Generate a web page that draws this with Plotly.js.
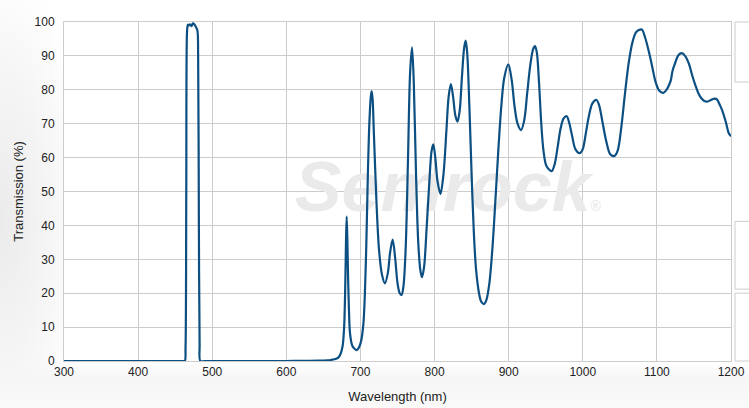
<!DOCTYPE html>
<html>
<head>
<meta charset="utf-8">
<script src="https://cdn.plot.ly/plotly-3.0.1.min.js"></script>
<style>
html,body{margin:0;padding:0;}
body{width:749px;height:408px;overflow:hidden;
 background:
  linear-gradient(to bottom, rgba(255,255,255,0) 0px, rgba(255,255,255,0) 362px, #f6f6f6 380px, #fafafa 408px),
  radial-gradient(ellipse 90px 260px at 0px 220px, #ebebeb 0%, #f4f4f4 50%, #ffffff 100%);
}
#chart{width:749px;height:408px;}
</style>
</head>
<body>
<div id="chart"></div>
<script>
// Wavelength (nm)
const wavelength = [
 300, 350, 400, 450, 460, 463, 464, 465, 466, 467, 468, 470, 472, 474, 476, 478, 480, 481, 482, 483, 484, 490,
 550, 600, 630, 645, 655, 660, 665, 670, 673, 676, 678, 679.5, 680.5, 681.4, 682.3, 683.3, 684.5, 686, 689, 692, 695,
 698, 701, 704, 706, 708, 710, 712, 714, 715.2, 716.5, 718, 720, 722, 725, 729, 733, 737, 740, 743.5, 747,
 750, 753, 755.5, 758, 761, 764, 767, 769.6, 772, 775, 778, 781, 783, 786, 789, 793, 796, 798.3, 801,
 804, 808, 812, 816, 819, 822, 825, 828, 831, 834, 837, 840, 842, 844, 847, 850, 853, 856, 860, 863,
 866.7, 870, 874, 878, 882, 886, 890, 894, 899.5, 904, 908, 912, 916.7, 921, 925, 929, 933, 935.6, 938,
 941, 944, 947, 951, 958, 962, 966, 970, 974, 978.3, 982, 986, 990, 996, 1000, 1004, 1008, 1013, 1018.5,
 1022, 1027, 1032, 1037, 1042.5, 1047, 1052, 1057, 1062, 1067, 1072, 1079.5, 1084, 1090, 1094, 1098, 1103,
 1108.5, 1113, 1117, 1119, 1121, 1124, 1129, 1133.5, 1138, 1143, 1148, 1152, 1156, 1160, 1164, 1168, 1173, 1178,
 1181, 1185, 1188, 1193, 1197, 1200
];
// Transmission (%)
const transmission = [
 0, 0, 0, 0, 0, 0, 4, 50, 97, 99.2, 98.9, 99.3, 98.8, 99.6, 99.3, 98.5, 97.5, 90, 40, 5, 0, 0,
 0, 0, 0.05, 0.1, 0.2, 0.3, 0.5, 1, 2, 4.5, 10, 22, 35, 42.6, 36, 25, 15, 8, 4.5, 3.6, 3.2,
 4, 6, 11, 20, 35, 55, 70, 78, 79.6, 77, 68, 56, 45, 33, 25.5, 22.9, 26, 32, 35.8, 30,
 23, 20, 19.5, 22, 33, 58, 85, 92.5, 82, 55, 35, 26.5, 24.7, 28, 38, 53, 62, 63.9, 60,
 53, 49.3, 55, 68, 78, 81.7, 78, 72.5, 70.6, 74, 84, 92.5, 94.5, 91, 75, 55, 38, 27, 20, 17.5,
 16.8, 18, 23, 33, 47, 62, 75, 83.5, 87.5, 83, 75, 70, 68.1, 71, 79, 87, 92, 92.9, 91,
 82, 70, 62, 57.5, 56, 58, 63, 68.5, 71.5, 72.2, 70, 66, 62.5, 61.3, 62.5, 67, 72, 76, 77,
 75.5, 70, 64.5, 61, 60.5, 62, 69, 79, 88, 94, 97, 97.8, 95.5, 90.5, 86.5, 82.5, 79.8,
 79.1, 80, 81.7, 83, 85.5, 87.5, 90.2, 90.8, 90, 87.8, 84, 81.3, 79, 77.5, 76.7, 76.5, 77, 77.4,
 77.2, 75.5, 74, 70.5, 67.2, 66.3
];
const xTicks = [300, 400, 500, 600, 700, 800, 900, 1000, 1100, 1200];
const yTicks = [0, 10, 20, 30, 40, 50, 60, 70, 80, 90, 100];
const watermarkText = ['Semrock<span style="font-size:14px;font-style:normal">®</span>'];
const watermarkX = [818];
const watermarkY = [49.5];

const watermark = {
  x: watermarkX, y: watermarkY, mode: 'text', text: watermarkText,
  textposition: 'middle center', hoverinfo: 'skip', showlegend: false,
  textfont: {family: 'Liberation Sans, Arial, sans-serif', size: 70, color: '#eaeaea', weight: 'bold', style: 'italic'},
  cliponaxis: false
};
const curve = {
  x: wavelength, y: transmission, mode: 'lines', showlegend: false,
  line: {color: '#0c4f82', width: 2.2, shape: 'spline', smoothing: 0.9},
  cliponaxis: false
};

const tickFont = {family: 'Liberation Sans, Arial, sans-serif', size: 12, color: '#222'};
const titleFont = {family: 'Liberation Sans, Arial, sans-serif', size: 13, color: '#222'};
const layout = {
  width: 749, height: 408,
  margin: {l: 64, r: 18, t: 22, b: 47},
  paper_bgcolor: 'rgba(0,0,0,0)',
  plot_bgcolor: '#ffffff',
  font: tickFont,
  xaxis: {
    range: [300, 1200], tickvals: xTicks, ticktext: xTicks.map(String),
    showgrid: true, gridcolor: '#cccccc', gridwidth: 1,
    showline: true, linecolor: '#cccccc', linewidth: 1, mirror: true,
    ticks: '', zeroline: false, tickfont: tickFont,
    title: {text: 'Wavelength (nm)', font: titleFont, standoff: 13}
  },
  yaxis: {
    range: [0, 100], tickvals: yTicks, ticktext: yTicks.map(String),
    showgrid: true, gridcolor: '#cccccc', gridwidth: 1,
    showline: true, linecolor: '#cccccc', linewidth: 1, mirror: true,
    ticks: '', zeroline: false, tickfont: tickFont, ticklabelstandoff: 6,
    title: {text: 'Transmission (%)', font: titleFont, standoff: 8}
  },
  shapes: [
    {type: 'rect', xref: 'paper', yref: 'paper', x0: 1.006, x1: 1.05, y0: 0.823, y1: 1.0, line: {color: '#cccccc', width: 1}, fillcolor: '#ffffff', layer: 'above'},
    {type: 'rect', xref: 'paper', yref: 'paper', x0: 1.006, x1: 1.05, y0: 0.212, y1: 0.412, line: {color: '#cccccc', width: 1}, fillcolor: '#ffffff', layer: 'above'},
    {type: 'rect', xref: 'paper', yref: 'paper', x0: 1.006, x1: 1.05, y0: 0.0, y1: 0.2, line: {color: '#cccccc', width: 1}, fillcolor: '#ffffff', layer: 'above'}
  ]
};
Plotly.newPlot('chart', [watermark, curve], layout, {displayModeBar: false, staticPlot: true});
</script>
</body>
</html>
